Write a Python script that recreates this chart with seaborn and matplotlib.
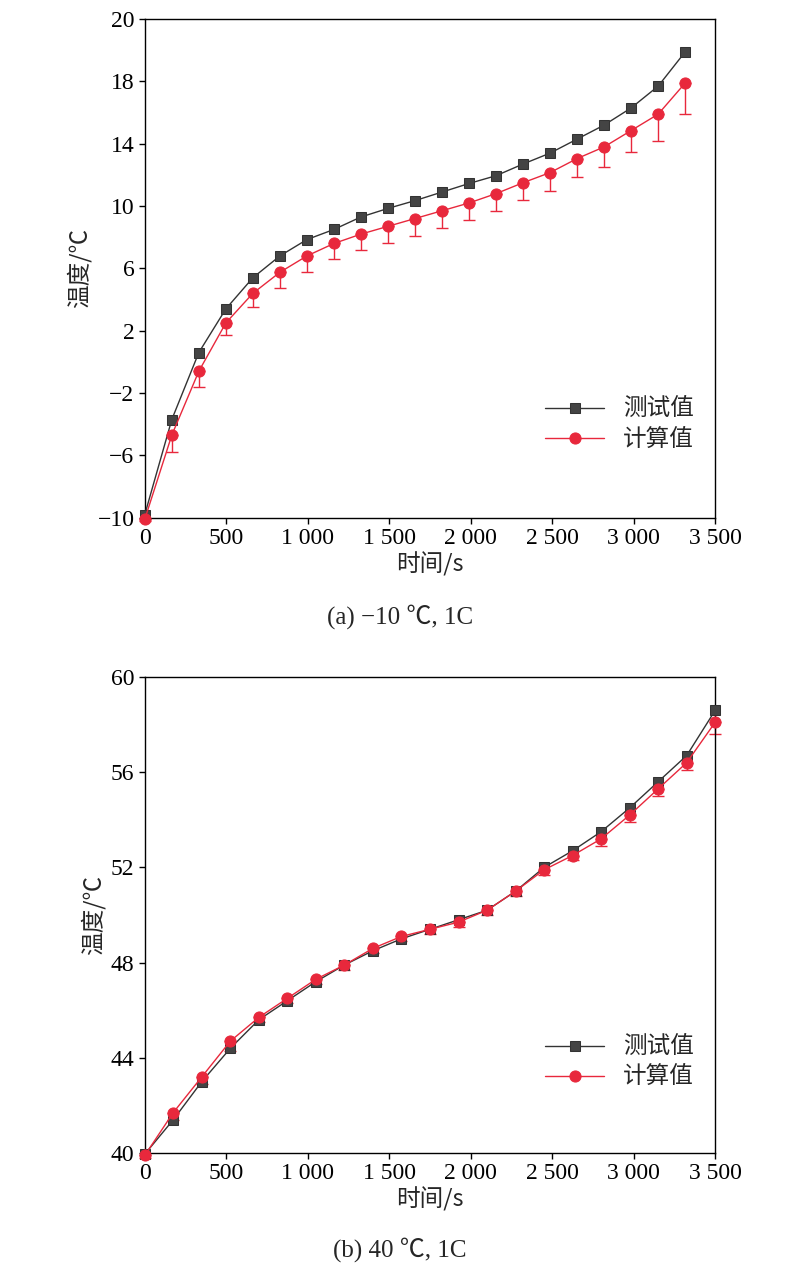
import matplotlib.pyplot as plt
import seaborn as sns
import numpy as np
import pandas as pd

sns.set_theme(style="ticks")
plt.rcParams['font.family'] = ['Liberation Serif', 'Noto Sans CJK SC']
plt.rcParams['axes.unicode_minus'] = True

# panel (a): -10 C, 1C
t_a = np.arange(21) * 165.8
meas_a = [-9.8, -3.7, 0.6, 3.4, 5.4, 6.8, 7.85, 8.5, 9.3, 9.85, 10.35, 10.9,
          11.45, 11.95, 12.7, 13.4, 14.3, 15.2, 16.3, 17.7, 19.9]
calc_a = [-10.1, -4.7, -0.6, 2.5, 4.4, 5.75, 6.8, 7.6, 8.2, 8.7, 9.2, 9.7,
          10.2, 10.8, 11.5, 12.15, 13.05, 13.8, 14.85, 15.9, 17.9]
err_a = [0.1, 1.1, 1.0, 0.8, 0.9, 1.0, 1.0, 1.0, 1.0, 1.1, 1.1, 1.1,
         1.1, 1.1, 1.1, 1.2, 1.2, 1.3, 1.4, 1.7, 2.0]

# panel (b): 40 C, 1C
t_b = np.arange(21) * 175.0
meas_b = [39.95, 41.4, 43.0, 44.4, 45.6, 46.4, 47.2, 47.9, 48.5, 49.0, 49.4, 49.8,
          50.2, 51.0, 52.0, 52.7, 53.5, 54.5, 55.6, 56.7, 58.6]
calc_b = [39.9, 41.7, 43.2, 44.7, 45.7, 46.5, 47.3, 47.9, 48.6, 49.1, 49.4, 49.7,
          50.2, 51.0, 51.9, 52.5, 53.2, 54.2, 55.3, 56.4, 58.1]
err_b = [0.1, 0.3, 0.3, 0.4, 0.2, 0.2, 0.2, 0.2, 0.2, 0.2, 0.2, 0.2,
         0.2, 0.2, 0.2, 0.2, 0.3, 0.3, 0.3, 0.3, 0.5]

black = '#333333'
red = '#e8283c'

fig = plt.figure(figsize=(8, 12.75), dpi=100)
ax1 = fig.add_axes([0.181, 0.594, 0.713, 0.391])
ax2 = fig.add_axes([0.181, 0.0957, 0.713, 0.3733])


def draw(ax, t, meas, calc, err):
    df = pd.DataFrame({'t': t, 'meas': meas, 'calc': calc})
    ax.errorbar(t, calc, yerr=[err, np.zeros(len(err))], fmt='none',
                ecolor=red, elinewidth=1, capsize=4, zorder=2, clip_on=False)
    sns.lineplot(data=df, x='t', y='meas', ax=ax, color=black, marker='s',
                 markersize=7, markerfacecolor='#444444', markeredgecolor=black,
                 linewidth=1, label='测试值', zorder=3, clip_on=False)
    sns.lineplot(data=df, x='t', y='calc', ax=ax, color=red, marker='o',
                 markersize=8, markerfacecolor=red, markeredgecolor=red,
                 linewidth=1, label='计算值', zorder=4, clip_on=False)
    ax.set_xlim(0, 3500)
    ax.set_xticks([0, 500, 1000, 1500, 2000, 2500, 3000, 3500])
    ax.set_xticklabels(['0', '500', '1 000', '1 500', '2 000', '2 500', '3 000', '3 500'])
    ax.set_xlabel('时间/s', fontsize=17, family=['Noto Sans CJK SC'], labelpad=2)
    ax.set_ylabel('温度/℃', fontsize=17, family=['Noto Sans CJK SC'])
    ax.tick_params(labelsize=17, direction='out', length=4, width=1, colors='black')
    for s in ax.spines.values():
        s.set_visible(True)
        s.set_color('black')
        s.set_linewidth(1)
    ax.legend(loc='lower right', bbox_to_anchor=(1.0, 0.09), frameon=False,
              prop={'family': 'Noto Sans CJK SC', 'size': 17},
              handlelength=2.5, labelspacing=0.3)


draw(ax1, t_a, meas_a, calc_a, err_a)
ax1.set_ylim(-10, 22)
ax1.set_yticks([-10, -6, -2, 2, 6, 10, 14, 18, 22])
ax1.set_yticklabels(['−10', '−6', '−2', '2', '6', '10', '14', '18', '20'])

draw(ax2, t_b, meas_b, calc_b, err_b)
ax2.set_ylim(40, 60)
ax2.set_yticks([40, 44, 48, 52, 56, 60])

fig.text(0.5, 1 - 617 / 1275, '(a) −10 ℃, 1C', ha='center', va='center', fontsize=18)
fig.text(0.5, 1 - 1250 / 1275, '(b) 40 ℃, 1C', ha='center', va='center', fontsize=18)

fig.savefig('out.png', dpi=100)
